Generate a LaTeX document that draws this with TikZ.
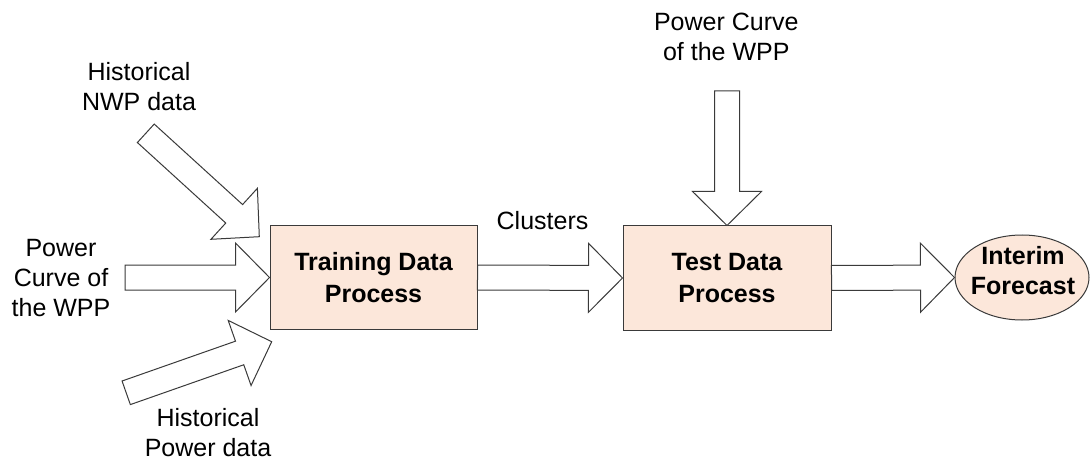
\documentclass[tikz,border=0pt]{standalone}
\usepackage{fontspec}
\setmainfont{Liberation Sans}
\usetikzlibrary{calc,shapes.geometric}

\definecolor{peach}{HTML}{FCE7DA}
\definecolor{edge}{HTML}{3A3A3A}

\tikzset{
  proc/.style={draw=edge, fill=peach, line width=1pt, inner sep=0pt,
    align=center, font=\bfseries\fontsize{25}{32}\selectfont},
  outcome/.style={ellipse, draw=edge, fill=peach, line width=1pt, inner sep=0pt,
    minimum width=134pt, minimum height=85pt},
  boldtext/.style={inner sep=0pt, align=center, font=\bfseries\fontsize{25}{30}\selectfont},
  caption/.style={inner sep=0pt, anchor=north, align=center,
    font=\fontsize{25}{30}\selectfont},
  fatarrow/.style={draw=edge, fill=white, line width=1pt, line join=miter},
}

% wide outlined arrow from #1 (tail centre) to #2 (tip)
\newcommand\blockarrow[2]{%
  \path ($(#2)!34pt!(#1)$) coordinate (ba-base);
  \draw[fatarrow]
    ($(#1)!12.5pt!90:(#2)$) -- ($(ba-base)!12.5pt!90:(#2)$)
    -- ($(ba-base)!34.5pt!90:(#2)$) -- (#2)
    -- ($(ba-base)!34.5pt!-90:(#2)$) -- ($(ba-base)!12.5pt!-90:(#2)$)
    -- ($(#1)!12.5pt!-90:(#2)$) -- cycle;}

\begin{document}
\begin{tikzpicture}[x=1pt, y=-1pt]
  \useasboundingbox (0,0) rectangle (1091,462);

  % processing blocks
  \node[proc, minimum width=207pt, minimum height=103pt] (train) at (373.5,277.5)
    {Training Data\\Process};
  \node[proc, minimum width=208pt, minimum height=104pt] (test) at (727,278)
    {Test Data\\Process};
  \node[outcome] (fc) at (1022,277.5) {};
  \node[boldtext] (fctext) at ($(fc.center)+(1,-7)$) {Interim\\Forecast};

  % input captions
  \node[caption] (nwp) at (139,62.3) {Historical\\NWP data};
  \node[caption] (pcleft) at (61,239) {Power\\Curve of\\the WPP};
  \node[caption] (hpd) at (208,408.3) {Historical\\Power data};
  \node[caption] (pctop) at (726.3,13.3) {Power Curve\\of the WPP};
  \node[caption] (clusters) at (542.5,210.7) {Clusters};

  % free ends of the input arrows
  \coordinate (nwp-tail) at (145.8,133.3);
  \coordinate (nwp-tip) at (259.3,236.7);
  \coordinate (pcl-tail) at (125,277.5);
  \coordinate (hpd-tail) at (126.2,392.8);
  \coordinate (hpd-tip) at (271.7,341.7);
  \coordinate (pct-tail) at (727,91);

  % data flow
  \blockarrow{nwp-tail}{nwp-tip}
  \blockarrow{pcl-tail}{train.west}
  \blockarrow{hpd-tail}{hpd-tip}
  \blockarrow{train.east}{test.west}
  \blockarrow{pct-tail}{test.north}
  \blockarrow{test.east}{fc.west}
\end{tikzpicture}
\end{document}
